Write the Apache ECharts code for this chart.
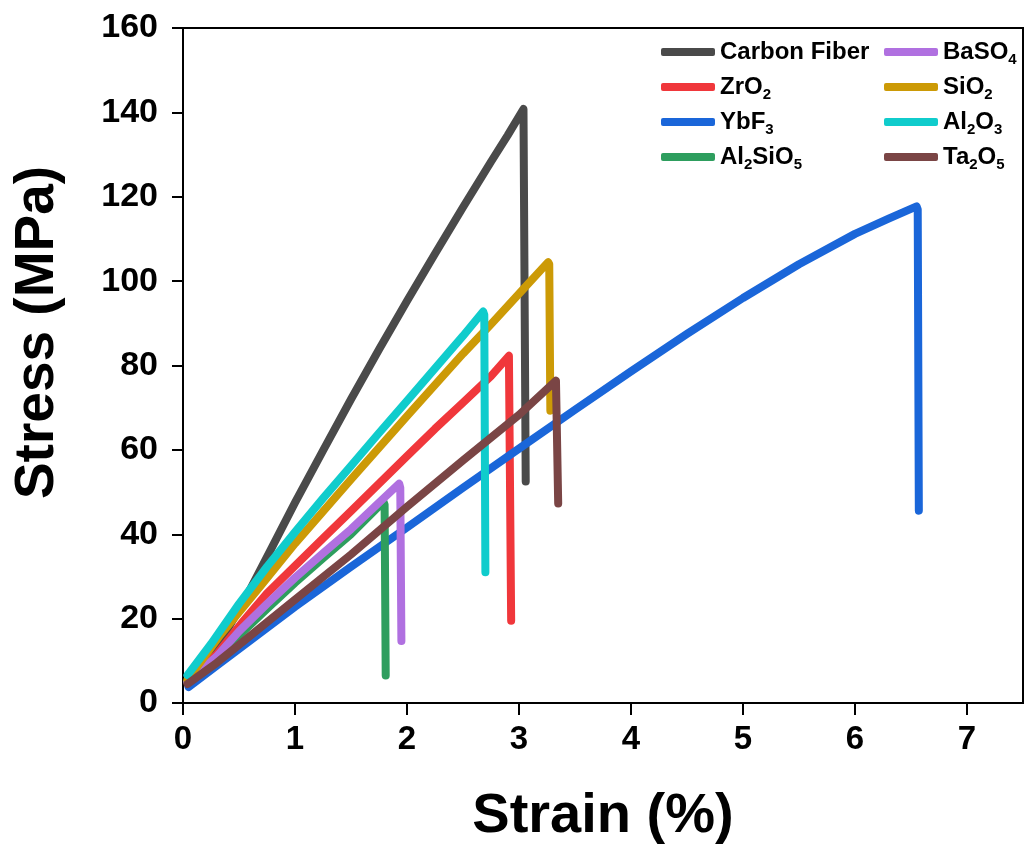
<!DOCTYPE html>
<html>
<head>
<meta charset="utf-8">
<script src="https://cdn.jsdelivr.net/npm/echarts@6/dist/echarts.min.js"></script>
<style>html,body{margin:0;padding:0;background:#fff}#c{width:1025px;height:850px}</style>
</head>
<body>
<div id="c"></div>
<script>
// Tick labels
const xTicks = [0, 1, 2, 3, 4, 5, 6, 7];
const yTicks = [0, 20, 40, 60, 80, 100, 120, 140, 160];

// Series names (legend order)
const seriesNames = ['Carbon Fiber', 'ZrO2', 'YbF3', 'Al2SiO5', 'BaSO4', 'SiO2', 'Al2O3', 'Ta2O5'];
const seriesColors = ['#4a4a4a', '#f0373b', '#1a66d9', '#2e9e5e', '#b070e0', '#cc9a06', '#10cccc', '#7a4545'];

// [strain %, stress MPa]
const carbonFiber = [[0.04,5],[0.3,13],[0.57,25.4],[0.8,37.2],[1.0,47.5],[1.25,59.8],[1.5,72],[1.75,83.8],[2.0,95.3],[2.25,106.5],[2.5,117.5],[2.75,128.3],[2.9,134.6],[3.04,140.8],[3.05,141],[3.06,52.5]];
const zrO2 = [[0.04,5],[0.3,11.5],[0.54,19.5],[0.75,26],[1.0,32.5],[1.25,39],[1.5,45.5],[1.75,52],[2.0,58.5],[2.25,65],[2.5,71.2],[2.75,77.5],[2.91,82.3],[2.92,82],[2.93,19.5]];
const ybF3 = [[0.05,3.8],[0.3,8.8],[0.6,14.8],[1.0,22.8],[1.5,32.3],[2.0,41.6],[2.5,51],[3.0,60.3],[3.5,69.5],[4.0,78.6],[4.5,87.5],[5.0,96],[5.5,104],[6.0,111.2],[6.3,114.8],[6.55,117.7],[6.56,117],[6.57,45.6]];
const al2SiO5 = [[0.04,5],[0.3,10.5],[0.5,16],[0.75,22.3],[1.0,28.5],[1.25,34.3],[1.5,40],[1.79,47.7],[1.8,47],[1.81,6.5]];
const baSO4 = [[0.04,5],[0.3,11],[0.5,17],[0.75,23.5],[1.0,29.7],[1.25,35.5],[1.5,41.2],[1.75,47.5],[1.93,52],[1.94,51],[1.95,14.7]];
const siO2 = [[0.04,5.5],[0.33,16],[0.7,28],[1.0,37.8],[1.5,53],[2.0,68],[2.5,82.8],[2.75,89.8],[3.0,97],[3.26,104.5],[3.27,104],[3.28,69.3]];
const al2O3 = [[0.04,6.6],[0.25,14],[0.5,23.5],[0.75,32.3],[1.0,40.5],[1.25,48.5],[1.5,56.2],[1.75,64],[2.0,71.6],[2.25,79.3],[2.5,87],[2.68,92.8],[2.69,92],[2.7,31]];
const ta2O5 = [[0.04,4.5],[0.3,9.5],[0.5,13.8],[1.0,24.5],[1.5,35.2],[2.0,46.5],[2.5,57.5],[3.0,68.3],[3.33,76.4],[3.34,76],[3.35,47.3]];

const seriesData = [carbonFiber, zrO2, ybF3, al2SiO5, baSO4, siO2, al2O3, ta2O5];

const FONT = "'Liberation Sans', Arial, sans-serif";
const chart = echarts.init(document.getElementById('c'));

const legendFormatter = function (name) {
  return name.replace(/(\d)/g, '{s|$1}');
};
const legendBase = {
  orient: 'vertical',
  selectedMode: false,
  padding: 0,
  itemGap: 5,
  itemWidth: 54,
  itemHeight: 8,
  icon: 'roundRect',
  formatter: legendFormatter,
  textStyle: {
    fontFamily: FONT, fontSize: 24, fontWeight: 'bold', color: '#000', lineHeight: 30,
    rich: { s: { fontFamily: FONT, fontSize: 15, fontWeight: 'bold', color: '#000', lineHeight: 14, verticalAlign: 'bottom' } }
  }
};

chart.setOption({
  backgroundColor: '#ffffff',
  animation: false,
  color: seriesColors,
  grid: { left: 183, right: 2, top: 28, bottom: 145, show: true, borderColor: '#000', borderWidth: 2, backgroundColor: 'transparent' },
  legend: [
    Object.assign({}, legendBase, { left: 661, top: 37, data: seriesNames.slice(0, 4) }),
    Object.assign({}, legendBase, { left: 884, top: 37, data: seriesNames.slice(4) })
  ],
  xAxis: {
    type: 'value', min: 0, max: 7.5,
    name: 'Strain (%)', nameLocation: 'middle', nameGap: 86,
    nameTextStyle: { fontFamily: FONT, fontSize: 56, fontWeight: 'bold', color: '#000' },
    axisLine: { show: true, lineStyle: { color: '#000', width: 2 } },
    axisTick: { show: true, inside: false, length: 12, lineStyle: { color: '#000', width: 2 }, customValues: xTicks },
    axisLabel: { fontFamily: FONT, fontSize: 33, fontWeight: 'bold', color: '#000', margin: 20, customValues: xTicks },
    splitLine: { show: false }
  },
  yAxis: {
    type: 'value', min: 0, max: 160, interval: 20,
    name: 'Stress (MPa)', nameLocation: 'middle', nameGap: 118,
    nameTextStyle: { fontFamily: FONT, fontSize: 55, fontWeight: 'bold', color: '#000', padding: [0, 0, 0, 66] },
    axisLine: { show: true, lineStyle: { color: '#000', width: 2 } },
    axisTick: { show: true, inside: false, length: 11, lineStyle: { color: '#000', width: 2 } },
    axisLabel: { fontFamily: FONT, fontSize: 34, fontWeight: 'bold', color: '#000', margin: 25,
      formatter: function (v) { return yTicks.indexOf(v) >= 0 ? String(v) : ''; } },
    splitLine: { show: false }
  },
  series: seriesNames.map(function (n, i) {
    return {
      name: n, type: 'line', data: seriesData[i], showSymbol: false, symbol: 'none',
      clip: false,
      lineStyle: { width: 8, color: seriesColors[i], cap: 'round', join: 'round' },
      itemStyle: { color: seriesColors[i] },
      z: 2 + i
    };
  })
});
</script>
</body>
</html>
